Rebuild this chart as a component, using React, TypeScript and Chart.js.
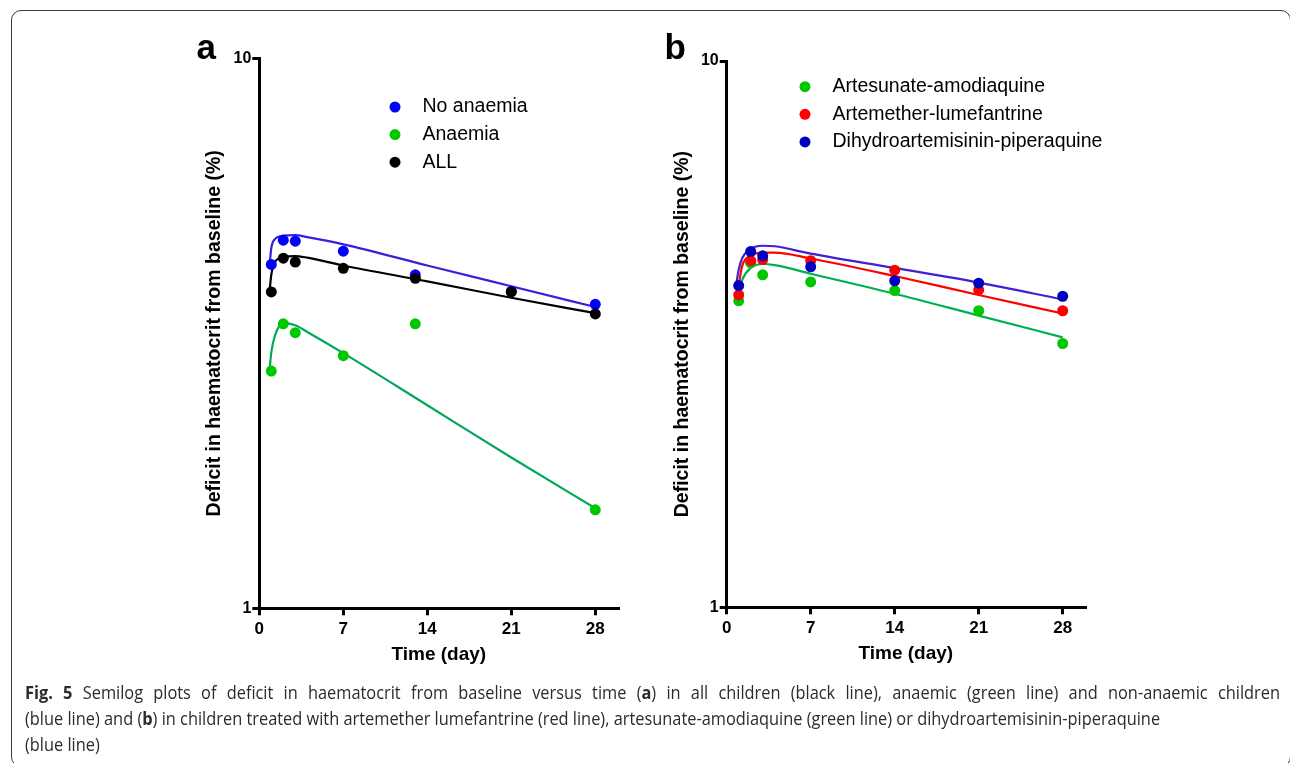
import React, { useEffect, useLayoutEffect, useRef, useState } from "react";
import { Chart, registerables } from "chart.js";

Chart.register(...registerables);

// ---------- Panel a data ----------
const DAYS_A = [1, 2, 3, 7, 13, 21, 28];
const NO_ANAEMIA = [4.22, 4.67, 4.65, 4.46, 4.04, 3.77, 3.57];
const ALL_CHILDREN = [3.76, 4.33, 4.26, 4.15, 3.98, 3.76, 3.43];
const ANAEMIA_DAYS = [1, 2, 3, 7, 13, 28];
const ANAEMIA = [2.7, 3.29, 3.17, 2.88, 3.29, 1.51];

const FIT_DAYS_A = [0.85, 1, 1.3, 2, 3, 4, 7, 14, 21, 28];
const NO_ANAEMIA_FIT = [4.19, 4.52, 4.69, 4.76, 4.77, 4.73, 4.59, 4.2, 3.85, 3.53];
const ALL_FIT = [3.76, 4.04, 4.26, 4.35, 4.37, 4.34, 4.2, 3.93, 3.67, 3.44];
const ANAEMIA_FIT = [2.71, 2.92, 3.13, 3.3, 3.27, 3.18, 2.91, 2.34, 1.88, 1.52];

// ---------- Panel b data ----------
const DAYS_B = [1, 2, 3, 7, 14, 21, 28];
const AS_AQ = [3.64, 4.27, 4.06, 3.94, 3.8, 3.49, 3.04];
const AL = [3.73, 4.31, 4.33, 4.31, 4.14, 3.81, 3.49];
const DHA_PQP = [3.88, 4.48, 4.4, 4.2, 3.96, 3.92, 3.71];

const FIT_DAYS_B = [0.8, 1, 1.3, 2, 3, 4, 7, 14, 21, 28];
const AS_AQ_FIT = [3.62, 3.78, 3.98, 4.18, 4.25, 4.23, 4.08, 3.75, 3.42, 3.12];
const AL_FIT = [3.66, 3.89, 4.22, 4.4, 4.46, 4.46, 4.35, 4.04, 3.73, 3.45];
const DHA_PQP_FIT = [3.91, 4.15, 4.36, 4.53, 4.59, 4.58, 4.44, 4.18, 3.93, 3.66];

// ---------- Axes ----------
const X_TICKS = [0, 7, 14, 21, 28];
const Y_TICKS = [1, 10];
const X_TITLE = "Time (day)";
const Y_TITLE = "Deficit in haematocrit from baseline (%)";

const W = 1290;
const H = 763;
const FONT = "'Liberation Sans', Arial, Helvetica, sans-serif";

type Panel = {
  letter: string;
  left: number;
  right: number;
  top: number;
  bottom: number;
  legendX: number;
  legendY: number;
  letterX: number;
  series: { label: string; days: number[]; values: number[]; color: string }[];
  fits: { days: number[]; values: number[]; color: string }[];
};

const pts = (days: number[], vals: number[]) => days.map((d, i) => ({ x: d, y: vals[i] }));

function makeConfig(p: Panel): any {
  const Y_W = 80;
  const X_H = 60;
  const datasets: any[] = [];
  p.series.forEach((s, i) => {
    datasets.push({
      label: s.label,
      data: pts(s.days, s.values),
      showLine: false,
      pointRadius: 5.5,
      pointHoverRadius: 5.5,
      pointBackgroundColor: s.color,
      pointBorderWidth: 0,
      backgroundColor: s.color,
      borderColor: s.color,
      order: p.series.length - i,
    });
  });
  p.fits.forEach((f) => {
    datasets.push({
      label: "fit",
      data: pts(f.days, f.values),
      showLine: true,
      pointRadius: 0,
      pointHoverRadius: 0,
      borderColor: f.color,
      borderWidth: 2.2,
      cubicInterpolationMode: "monotone",
      fill: false,
      order: 20,
    });
  });

  const decor = {
    id: "decor" + p.letter,
    afterDraw(chart: any) {
      const ctx = chart.ctx;
      ctx.save();
      ctx.fillStyle = "#000";
      ctx.font = `bold 35px ${FONT}`;
      ctx.textBaseline = "alphabetic";
      ctx.textAlign = "left";
      ctx.fillText(p.letter, p.letterX, 58.5);
      ctx.font = `19.5px ${FONT}`;
      ctx.textBaseline = "middle";
      p.series.forEach((s, i) => {
        const y = p.legendY + i * 27.6;
        ctx.beginPath();
        ctx.arc(p.legendX, y, 5.5, 0, Math.PI * 2);
        ctx.fillStyle = s.color;
        ctx.fill();
        ctx.fillStyle = "#000";
        ctx.fillText(s.label, p.legendX + 27.5, y);
      });
      ctx.restore();
    },
  };

  return {
    type: "scatter",
    data: { datasets },
    plugins: [decor],
    options: {
      responsive: false,
      animation: false,
      devicePixelRatio: 1,
      events: [],
      layout: {
        padding: {
          left: p.left - Y_W,
          right: W - p.right,
          top: p.top,
          bottom: H - p.bottom - X_H,
        },
      },
      plugins: { legend: { display: false }, tooltip: { enabled: false }, title: { display: false } },
      scales: {
        x: {
          type: "linear",
          position: "bottom",
          min: 0,
          max: (p.right - p.left) / 12,
          afterFit: (s: any) => {
            s.height = X_H;
          },
          afterBuildTicks: (s: any) => {
            s.ticks = X_TICKS.map((v) => ({ value: v }));
          },
          ticks: {
            color: "#000",
            font: { family: FONT, size: 17, weight: "bold" },
            padding: 3.5,
            maxRotation: 0,
            autoSkip: false,
            callback: (v: any) => String(v),
          },
          grid: {
            display: true,
            drawOnChartArea: false,
            drawTicks: true,
            tickLength: 7,
            tickWidth: 3,
            tickColor: "#000",
            color: "#000",
            lineWidth: 3,
          },
          border: { display: true, color: "#000", width: 3 },
          title: {
            display: true,
            text: X_TITLE,
            color: "#000",
            font: { family: FONT, size: 19, weight: "bold" },
            padding: { top: 0, bottom: 2 },
          },
        },
        y: {
          type: "logarithmic",
          position: "left",
          min: 1,
          max: 10,
          afterFit: (s: any) => {
            s.width = Y_W;
          },
          afterBuildTicks: (s: any) => {
            s.ticks = Y_TICKS.map((v) => ({ value: v }));
          },
          ticks: {
            color: "#000",
            font: { family: FONT, size: 16, weight: "bold" },
            padding: 1,
            autoSkip: false,
            callback: (v: any) => String(v),
          },
          grid: {
            display: true,
            drawOnChartArea: false,
            drawTicks: true,
            tickLength: 7,
            tickWidth: 3,
            tickColor: "#000",
            color: "#000",
            lineWidth: 3,
          },
          border: { display: true, color: "#000", width: 3 },
          title: {
            display: true,
            text: Y_TITLE,
            color: "#000",
            font: { family: FONT, size: 19.5, weight: "bold" },
            padding: { top: 24, bottom: 0 },
          },
        },
      },
    },
  };
}

const PANEL_A: Panel = {
  letter: "a",
  left: 259.3,
  right: 618.3,
  top: 58.3,
  bottom: 608.3,
  legendX: 395,
  legendY: 107,
  letterX: 196.5,
  series: [
    { label: "No anaemia", days: DAYS_A, values: NO_ANAEMIA, color: "#0000ff" },
    { label: "Anaemia", days: ANAEMIA_DAYS, values: ANAEMIA, color: "#00c800" },
    { label: "ALL", days: DAYS_A, values: ALL_CHILDREN, color: "#000000" },
  ],
  fits: [
    { days: FIT_DAYS_A, values: NO_ANAEMIA_FIT, color: "#3b1fd8" },
    { days: FIT_DAYS_A, values: ANAEMIA_FIT, color: "#00a85a" },
    { days: FIT_DAYS_A, values: ALL_FIT, color: "#000000" },
  ],
};

const PANEL_B: Panel = {
  letter: "b",
  left: 726.7,
  right: 1085,
  top: 61,
  bottom: 607.3,
  legendX: 805,
  legendY: 86.7,
  letterX: 664.5,
  series: [
    { label: "Artesunate-amodiaquine", days: DAYS_B, values: AS_AQ, color: "#00c800" },
    { label: "Artemether-lumefantrine", days: DAYS_B, values: AL, color: "#ff0000" },
    { label: "Dihydroartemisinin-piperaquine", days: DAYS_B, values: DHA_PQP, color: "#0000c0" },
  ],
  fits: [
    { days: FIT_DAYS_B, values: AS_AQ_FIT, color: "#00b050" },
    { days: FIT_DAYS_B, values: AL_FIT, color: "#ff0000" },
    { days: FIT_DAYS_B, values: DHA_PQP_FIT, color: "#4020d0" },
  ],
};

function PanelChart({ panel }: { panel: Panel }) {
  const ref = useRef<HTMLCanvasElement | null>(null);
  useEffect(() => {
    if (!ref.current) return;
    const chart = new Chart(ref.current, makeConfig(panel));
    return () => chart.destroy();
  }, [panel]);
  return (
    <canvas
      ref={ref}
      width={W}
      height={H}
      style={{ position: "absolute", left: 0, top: 0, width: W, height: H }}
    />
  );
}

const CAPTION_LEFT = 25;
const CAPTION_LINE1_RIGHT = 1280;
const CAPTION_LINE2_RIGHT = 1160;

function Caption() {
  const line2Ref = useRef<HTMLSpanElement | null>(null);
  const [scale, setScale] = useState(0.9);
  useLayoutEffect(() => {
    let alive = true;
    const measure = () => {
      if (!alive || !line2Ref.current) return;
      const w = line2Ref.current.offsetWidth;
      if (w > 0) setScale((CAPTION_LINE2_RIGHT - CAPTION_LEFT) / w);
    };
    measure();
    const fonts = (document as any).fonts;
    if (fonts && fonts.ready) fonts.ready.then(measure);
    const t = setTimeout(measure, 50);
    return () => {
      alive = false;
      clearTimeout(t);
    };
  }, []);
  const lineStyle: React.CSSProperties = {
    position: "absolute",
    left: 0,
    whiteSpace: "nowrap",
    lineHeight: "24px",
    height: 24,
  };
  return (
    <div
      style={{
        position: "absolute",
        left: CAPTION_LEFT,
        top: 0,
        width: 2000,
        fontFamily: "'Open Sans', 'Noto Sans', sans-serif",
        fontSize: 18.5,
        color: "#2b2b2b",
        transformOrigin: "0 0",
        transform: `scaleX(${scale})`,
      }}
    >
      <div
        style={{
          ...lineStyle,
          top: 680,
          whiteSpace: "normal",
          width: (CAPTION_LINE1_RIGHT - CAPTION_LEFT) / scale,
          textAlign: "justify",
          textAlignLast: "justify" as any,
        }}
      >
        <b>Fig. 5</b> Semilog plots of deficit in haematocrit from baseline versus time (<b>a</b>) in
        all children (black line), anaemic (green line) and non-anaemic children
      </div>
      <div style={{ ...lineStyle, top: 706 }}>
        <span ref={line2Ref} style={{ display: "inline-block" }}>
          (blue line) and (<b>b</b>) in children treated with artemether lumefantrine (red line),
          artesunate-amodiaquine (green line) or dihydroartemisinin-piperaquine
        </span>
      </div>
      <div style={{ ...lineStyle, top: 732 }}>(blue line)</div>
    </div>
  );
}

export default function App() {
  return (
    <div
      style={{
        position: "fixed",
        left: 0,
        top: 0,
        width: W,
        height: H,
        overflow: "hidden",
        background: "#fff",
      }}
    >
      <div
        style={{
          position: "absolute",
          left: 11,
          top: 10,
          width: 1280,
          height: 757,
          border: "1px solid #3a3a3a",
          borderRadius: 10,
          boxSizing: "border-box",
        }}
      />
      <PanelChart panel={PANEL_A} />
      <PanelChart panel={PANEL_B} />
      <Caption />
    </div>
  );
}
